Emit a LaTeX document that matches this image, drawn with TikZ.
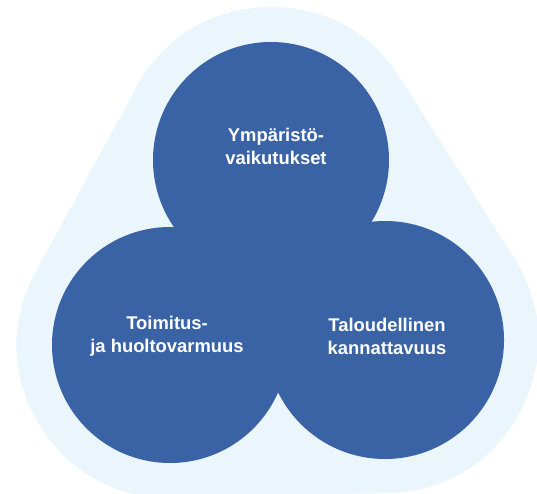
\documentclass[tikz,border=0pt]{standalone}
\usepackage{fontspec}
\setmainfont{Liberation Sans}
\definecolor{discblue}{RGB}{58,99,166}
\definecolor{haloblue}{RGB}{235,245,252}
\begin{document}
\begin{tikzpicture}[x=1pt,y=-1pt,
  disc/.style={fill=discblue},
  label/.style={text=white,font=\bfseries\fontsize{18.4}{23}\selectfont,align=center,anchor=base,inner sep=0pt}]
\useasboundingbox (0,0) rectangle (537,494);
% centres of the three discs
\coordinate (ct) at (271,160);
\coordinate (cl) at (170,345);
\coordinate (cr) at (385,340);
% pale halo: the triangle of centres grown by a round pen
\filldraw[haloblue,line width=306pt,line join=round] (ct) -- (cl) -- (cr) -- cycle;
% the three discs, joined in the middle
\fill[disc] (ct) -- (cl) -- (cr) -- cycle;
\fill[disc] (ct) circle (118);
\fill[disc] (cl) circle (118);
\fill[disc] (cr) circle (119);
% captions (placed by the baseline of their last line)
\node[label] (tt) at (276,165) {Ympäristö-\\vaikutukset};
\node[label] (tl) at (167,352) {Toimitus-\\ja huoltovarmuus};
\node[label] (tr) at (387,354) {Taloudellinen\\kannattavuus};
\end{tikzpicture}
\end{document}
